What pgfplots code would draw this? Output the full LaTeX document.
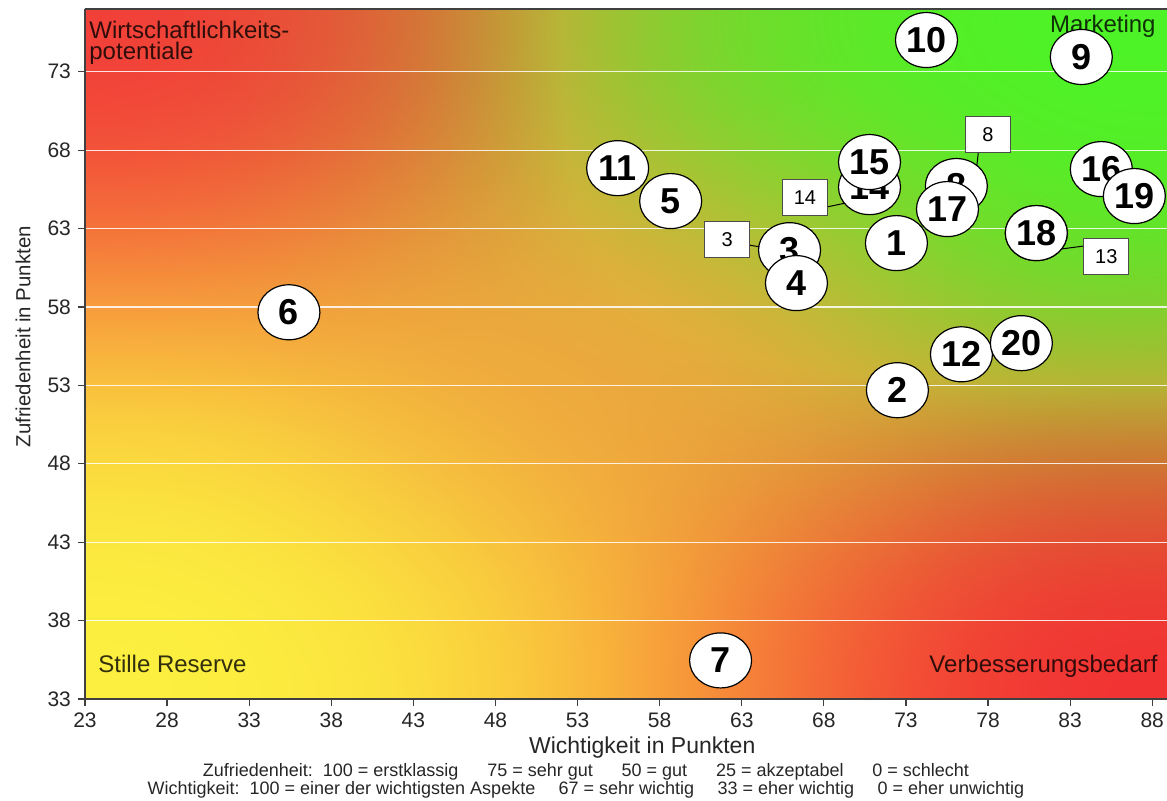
\documentclass[border=0pt]{standalone}
\usepackage{pgfplots}
\pgfplotsset{compat=1.18}
\usepackage{pgfplotstable}
\usepackage{fontspec}
\setmainfont{Liberation Sans}
\usetikzlibrary{shapes.geometric}

\pgfdeclarefunctionalshading{bilin}{\pgfpointorigin}{\pgfpoint{100bp}{100bp}}{}{
25 sub 50 div exch 25 sub 50 div exch
1 index 1 exch sub 1 index mul
2 index 2 index mul
3 index 1 exch sub 3 index 1 exch sub mul
4 index 4 index 1 exch sub mul
dup mul 0.75 mul 4 -1 roll dup mul 0.7 mul 4 -1 roll dup mul 1.2 mul 4 -1 roll dup mul 1.3 mul 4 -1 roll
3 index 3 index add 2 index add 1 index add
4 index 0.94 mul 4 index 0.30 mul add 3 index 1.00 mul add 2 index 0.94 mul add 1 index div
5 index 0.25 mul 5 index 0.95 mul add 4 index 0.95 mul add 3 index 0.20 mul add 2 index div
6 index 0.22 mul 6 index 0.15 mul add 5 index 0.25 mul add 4 index 0.20 mul add 3 index div
8 3 roll pop pop pop pop pop
2 index 2 index 2 copy lt {exch} if pop
0.288 exch div 0.7 add
3 index 1 index mul 3 index 2 index mul 3 index 3 index mul
7 3 roll pop pop pop pop
4 index dup 1 exch sub mul 4 index dup 1 exch sub mul mul 16 mul dup dup mul mul 0.6 mul
3 index 0.97 exch sub 1 index mul 4 index add
3 index 0.62 exch sub 2 index mul 4 index add
3 index 0.25 exch sub 3 index mul 4 index add
9 3 roll pop pop pop pop pop pop
}

\pgfdeclareplotmark{bubble}{\node[ellipse, draw=black, line width=0.6pt, fill=white,
  minimum width=31pt, minimum height=27.5pt, inner sep=0pt, text=black,
  font=\fontsize{18}{18}\selectfont\bfseries]
  {\pgfmathprintnumber[fixed,precision=0,assume math mode=true]{\lab}};}
\pgfdeclareplotmark{callout}{\node[rectangle, draw=black!70, line width=0.5pt, fill=white,
  minimum width=22.5pt, minimum height=18pt, inner sep=0pt, text=black,
  font=\fontsize{10}{10}\selectfont]
  {\pgfmathprintnumber[fixed,precision=0,assume math mode=true]{\lab}};}

\pgfplotstableread{
x y label
72.42 62.07 1
72.48 52.69 2
65.91 61.62 3
66.33 59.52 4
58.67 64.75 5
35.42 57.66 6
61.71 35.46 7
76.07 65.71 8
83.68 73.94 9
74.25 75.02 10
55.44 66.85 11
76.38 54.98 12
80.94 62.71 13
70.78 65.64 14
70.78 67.24 15
84.90 66.79 16
75.53 64.24 17
80.94 62.71 18
86.91 65.07 19
80.03 55.69 20
}\bubbles

\pgfplotstableread{
x y label
62.11 62.32 3
66.85 65.00 14
77.99 69.02 8
85.20 61.24 13
}\boxes

\begin{document}
\begin{tikzpicture}
\useasboundingbox (-42.5pt,-51pt) rectangle (541pt,349.5pt);
\begin{axis}[
  at={(0,0)}, anchor=south west,
  scale only axis, width=541pt, height=345pt,
  xmin=23, xmax=88.9, ymin=33, ymax=77,
  xtick={23,28,...,88}, ytick={33,38,...,73},
  axis y line*=left, axis x line*=box, xtick pos=bottom,
  tick align=outside, major tick length=3.5pt,
  tick style={black!75, line width=0.6pt},
  axis line style={black!75, line width=0.75pt},
  ymajorgrids, grid style={white, line width=0.6pt, opacity=0.85},
  axis background/.style={shade, shading=bilin},
  /pgf/number format/assume math mode=true,
  ticklabel style={font=\fontsize{10.5}{12}\selectfont, text=black!85},
  xlabel={Wichtigkeit in Punkten},
  ylabel={Zufriedenheit in Punkten},
  x label style={at={(axis description cs:0.515,-0.071)}, anchor=center, font=\fontsize{11.5}{12}\selectfont, text=black!85},
  y label style={at={(axis description cs:-0.0573,0.525)}, anchor=center, font=\fontsize{10.2}{12}\selectfont, text=black!85},
  clip=false,
]
\addplot[only marks, mark=bubble, visualization depends on={\thisrow{label}\as\lab}] table[x=x,y=y] {\bubbles};
\addplot[black, line width=0.5pt] coordinates {(63.47,61.94) (64.57,61.75)};
\addplot[black, line width=0.5pt] coordinates {(68.16,64.37) (70.17,64.81)};
\addplot[black, line width=0.5pt] coordinates {(77.47,68.45) (77.29,66.73)};
\addplot[black, line width=0.5pt] coordinates {(83.80,61.88) (81.92,61.62)};
\addplot[only marks, mark=callout, visualization depends on={\thisrow{label}\as\lab}] table[x=x,y=y] {\boxes};

\node[anchor=north west, inner sep=0pt, align=left, text=black, text opacity=0.8,
  font=\fontsize{12}{10.5}\selectfont] at (axis description cs:0.0037,0.983) {Wirtschaftlichkeits-\\potentiale};
\node[anchor=north east, inner sep=0pt, text=black, text opacity=0.8,
  font=\fontsize{12}{12}\selectfont] at (axis description cs:0.9898,0.992) {Marketing};
\node[anchor=base west, inner sep=0pt, text=black, text opacity=0.8,
  font=\fontsize{12}{12}\selectfont] at (axis description cs:0.012,0.0377) {Stille Reserve};
\node[anchor=base east, inner sep=0pt, text=black, text opacity=0.8,
  font=\fontsize{12}{12}\selectfont] at (axis description cs:0.9917,0.0377) {Verbesserungsbedarf};

\node[anchor=center, inner sep=0pt, text=black!85, font=\fontsize{9}{10}\selectfont]
  at (axis description cs:0.463,-0.1058)
  {Zufriedenheit:\ \ 100 = erstklassig\hspace{1.6em}75 = sehr gut\hspace{1.6em}50 = gut\hspace{1.6em}25 = akzeptabel\hspace{1.6em}0 = schlecht};
\node[anchor=center, inner sep=0pt, text=black!85, font=\fontsize{9}{10}\selectfont]
  at (axis description cs:0.463,-0.1319)
  {Wichtigkeit:\ \ 100 = einer der wichtigsten Aspekte\hspace{1.3em}67 = sehr wichtig\hspace{1.3em}33 = eher wichtig\hspace{1.3em}0 = eher unwichtig};
\end{axis}
\end{tikzpicture}
\end{document}
